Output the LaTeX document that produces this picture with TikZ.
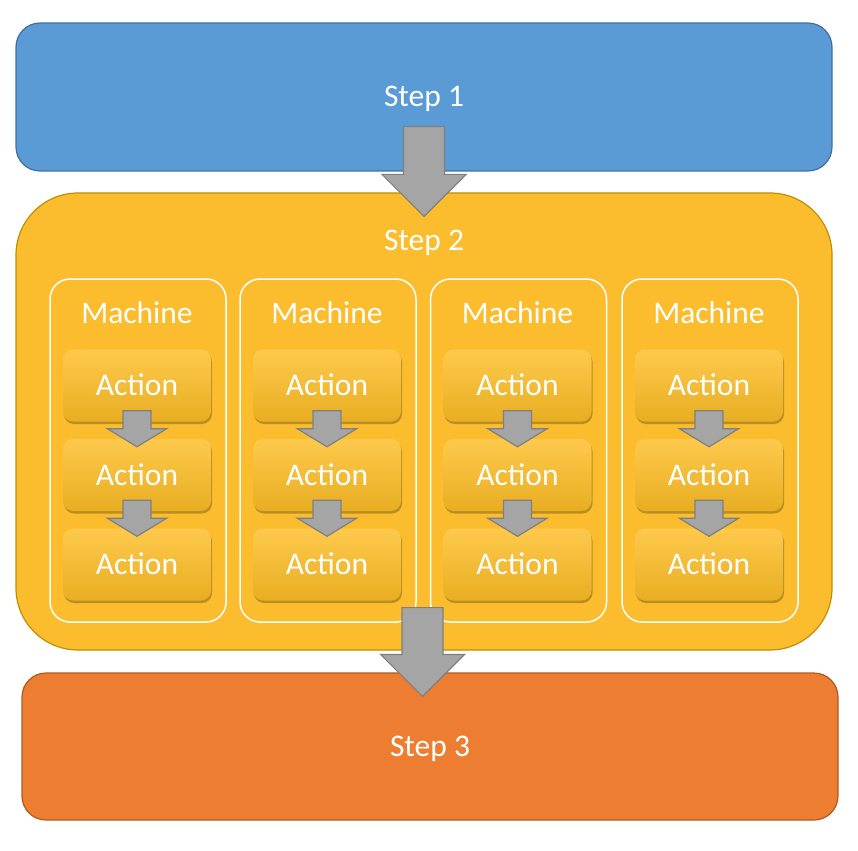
\documentclass[tikz,border=0pt]{standalone}
\usepackage{fontspec}
\setmainfont{Carlito}
\usetikzlibrary{calc,shadows}
\usepackage{xcolor}

\definecolor{stepblue}{HTML}{5B9BD5}
\definecolor{stepblueline}{HTML}{41719C}
\definecolor{stepgold}{HTML}{FBBD2E}
\definecolor{stepgoldline}{HTML}{BF9000}
\definecolor{steporange}{HTML}{ED7D31}
\definecolor{steporangeline}{HTML}{AE5A21}
\definecolor{actiontop}{HTML}{FEC94C}
\definecolor{actionbottom}{HTML}{E8AE22}
\definecolor{arrowfill}{HTML}{A5A5A5}
\definecolor{arrowline}{HTML}{7F7F7F}

\begin{document}
\begin{tikzpicture}[
    x=1pt, y=-1pt,
    every node/.style={text=white, font=\fontsize{31.5}{36}\selectfont, text height=20pt, text depth=0pt},
    stepbox/.style={draw, line width=1.2pt, rounded corners=24pt, minimum width=816pt, inner sep=0pt},
    machinebox/.style={draw=white, line width=1.5pt, rounded corners=20pt, minimum width=176pt, minimum height=343pt},
    actionbox/.style={rounded corners=10pt, minimum width=148pt, minimum height=72pt, top color=actiontop, bottom color=actionbottom,
        drop shadow={shadow xshift=1pt, shadow yshift=-2.5pt, fill=black, opacity=0.25}},
    blockarrow/.style n args={3}{draw=arrowline, fill=arrowfill, line width=1.2pt,
        to path={let \p1=(\tikztostart), \p2=(\tikztotarget) in
            (\x1-#1pt,\y1) -- (\x1+#1pt,\y1) -- (\x1+#1pt,\y2+#3pt) -- (\x1+#2pt,\y2+#3pt)
            -- (\x1,\y2) -- (\x1-#2pt,\y2+#3pt) -- (\x1-#1pt,\y2+#3pt) -- cycle}},
    bigarrow/.style={blockarrow={20.5}{42}{42}},
    smallarrow/.style={blockarrow={14}{29.5}{18}}
]
\useasboundingbox (0,0) rectangle (858,850);

\node[stepbox, draw=stepblueline, fill=stepblue, minimum height=148pt] (s1) at (424,97) {Step 1};
\node[stepbox, draw=stepgoldline, fill=stepgold, minimum height=457pt, rounded corners=62pt] (s2) at (424,421.5) {};
\node[stepbox, draw=steporangeline, fill=steporange, minimum height=147pt] (s3) at (430,746.5) {Step 3};
\node (s2t) at (424,240) {Step 2};

\draw[bigarrow] ([yshift=45pt]s1.south) to ([yshift=-24pt]s2.north);

% machines
\node[machinebox] (m1) at (138,450.5) {};
\node[machinebox] (m2) at (328,450.5) {};
\node[machinebox] (m3) at (518.5,450.5) {};
\node[machinebox] (m4) at (710,450.5) {};
\node (t1) at (137,313) {Machine};
\node (t2) at (327,313) {Machine};
\node (t3) at (517.5,313) {Machine};
\node (t4) at (709,313) {Machine};

% actions
\node[actionbox] (a11) at (137,385.5) {Action};
\node[actionbox] (a12) at (137,475) {Action};
\node[actionbox] (a13) at (137,564.5) {Action};
\node[actionbox] (a21) at (327,385.5) {Action};
\node[actionbox] (a22) at (327,475) {Action};
\node[actionbox] (a23) at (327,564.5) {Action};
\node[actionbox] (a31) at (517.5,385.5) {Action};
\node[actionbox] (a32) at (517.5,475) {Action};
\node[actionbox] (a33) at (517.5,564.5) {Action};
\node[actionbox] (a41) at (709,385.5) {Action};
\node[actionbox] (a42) at (709,475) {Action};
\node[actionbox] (a43) at (709,564.5) {Action};

\draw[smallarrow] ([yshift=11pt]a11.south) to ([yshift=-8pt]a12.north);
\draw[smallarrow] ([yshift=11pt]a12.south) to ([yshift=-8pt]a13.north);
\draw[smallarrow] ([yshift=11pt]a21.south) to ([yshift=-8pt]a22.north);
\draw[smallarrow] ([yshift=11pt]a22.south) to ([yshift=-8pt]a23.north);
\draw[smallarrow] ([yshift=11pt]a31.south) to ([yshift=-8pt]a32.north);
\draw[smallarrow] ([yshift=11pt]a32.south) to ([yshift=-8pt]a33.north);
\draw[smallarrow] ([yshift=11pt]a41.south) to ([yshift=-8pt]a42.north);
\draw[smallarrow] ([yshift=11pt]a42.south) to ([yshift=-8pt]a43.north);

\draw[bigarrow] ([xshift=-1.5pt,yshift=43pt]s2.south) to ([yshift=-24pt]s3.north);
\end{tikzpicture}
\end{document}
